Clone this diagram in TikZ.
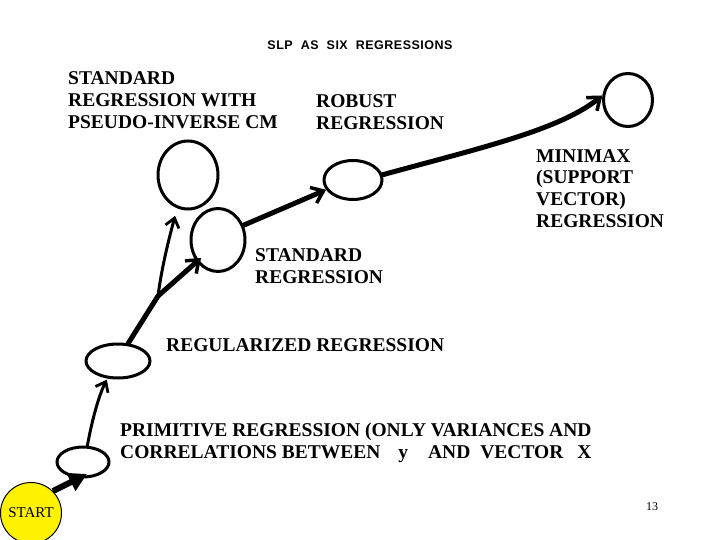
\documentclass[tikz,border=0pt]{standalone}
\usepackage{fontspec}
\setmainfont{Liberation Serif}
\newfontfamily\titlefont[LetterSpace=4]{Liberation Sans}
\usetikzlibrary{shapes.geometric,arrows.meta}
\begin{document}
\begin{tikzpicture}[x=1pt,y=-1pt,
  bubble/.style={draw,ellipse,line width=3pt,inner sep=0pt},
  lbl/.style={anchor=base west,align=left,inner sep=0pt,font=\fontsize{19.5}{22}\selectfont\bfseries},
  mainarrow/.style={line width=5pt,line cap=round,-{Straight Barb[length=11pt,width=17pt,line width=3.5pt]}},
  thinarrow/.style={line width=3pt,line cap=round,-{Straight Barb[length=9pt,width=14pt,line width=2.8pt]}},
  startarrow/.style={line width=6pt,-{Triangle[length=18pt,width=19pt]}}
]
\useasboundingbox (0,0) rectangle (720,540);
% title
\node[anchor=base,inner sep=0pt,font=\titlefont\bfseries\fontsize{12.5}{15}\selectfont] (title) at (360,50) {SLP\hspace{8pt}AS\hspace{8pt}SIX\hspace{8pt}REGRESSIONS};
% bubbles
\node[draw,circle,fill=yellow,line width=1pt,minimum size=61pt,inner sep=0pt,font=\fontsize{15}{17}\selectfont] (start) at (31,513) {START};
\node[bubble,minimum width=52pt,minimum height=30pt] (prim) at (83,462) {};
\node[bubble,minimum width=64pt,minimum height=34pt] (reg) at (118,361) {};
\node[bubble,minimum width=60pt,minimum height=68pt] (pseudo) at (188,175) {};
\node[bubble,minimum width=54pt,minimum height=63pt] (std) at (218,240) {};
\node[bubble,minimum width=58pt,minimum height=39pt] (robust) at (353,180) {};
\node[bubble,minimum width=49pt,minimum height=53pt] (minimax) at (628,100) {};
% labels (anchored at the baseline of their last line)
\node[lbl] (lpseudo) at (68,129) {STANDARD\\REGRESSION WITH\\PSEUDO-INVERSE CM};
\node[lbl] (lrobust) at (316,130) {ROBUST\\REGRESSION};
\node[lbl] (lminimax) at (536,228) {MINIMAX\\(SUPPORT\\VECTOR)\\REGRESSION};
\node[lbl] (lstd) at (255,283) {STANDARD\\REGRESSION};
\node[lbl] (lreg) at (166,351) {REGULARIZED REGRESSION};
\node[lbl] (lprim) at (120,458) {PRIMITIVE REGRESSION (ONLY VARIANCES AND\\CORRELATIONS BETWEEN\hspace{18pt}y\hspace{20pt}AND\hspace{10pt}VECTOR\hspace{14pt}X};
\node[anchor=base,inner sep=0pt,font=\fontsize{12}{14}\selectfont] (page) at (652,510) {13};
% connectors
\coordinate (branch) at (158,296);
\draw[startarrow] (start.45) -- ([shift={(4,12)}]prim.center);
\draw[thinarrow] (prim.75) .. controls (92,420) and (99,395) .. ([shift={(-1,1)}]reg.-120);
\draw[line width=5pt,line cap=round] (reg.60) -- (branch);
\draw[mainarrow] (branch) -- ([shift={(-17,18)}]std.center);
\draw[thinarrow] (branch) .. controls (162,265) and (170,235) .. ([shift={(-1,8)}]pseudo.-110);
\draw[mainarrow] (std.30) -- (robust.200);
\draw[mainarrow] (robust.10) .. controls (480,148) and (560,130) .. (minimax.170);
\end{tikzpicture}
\end{document}
